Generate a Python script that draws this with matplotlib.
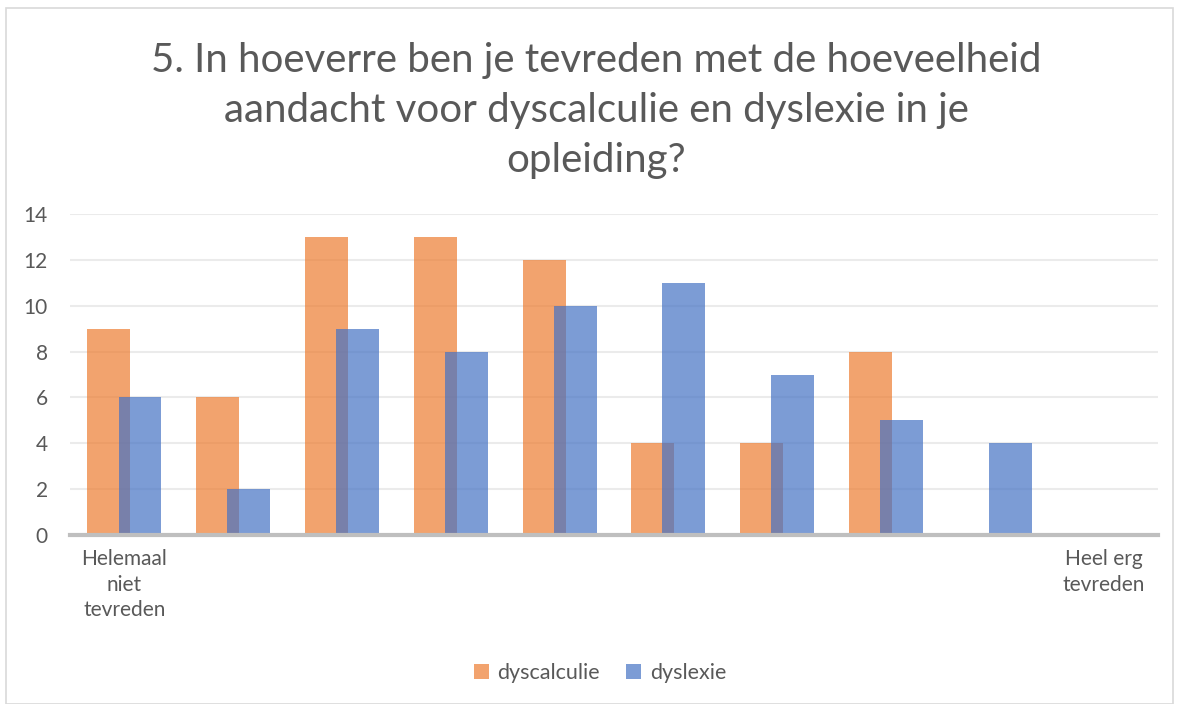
import numpy as np
import matplotlib.pyplot as plt
from matplotlib.patches import Rectangle

# donnees
categories = ["Helemaal\nniet\ntevreden", "", "", "", "", "", "", "", "", "Heel erg\ntevreden"]
dyscalculie = [9, 6, 13, 13, 12, 4, 4, 8, 0, 0]
dyslexie = [6, 2, 9, 8, 10, 11, 7, 5, 4, 0]
yticks = [0, 2, 4, 6, 8, 10, 12, 14]
titre = "5. In hoeverre ben je tevreden met de hoeveelheid\naandacht voor dyscalculie en dyslexie in je\nopleiding?"

plt.rcParams['font.family'] = ['Lato', 'DejaVu Sans']
gris = '#595959'

fig = plt.figure(figsize=(11.81, 7.04), dpi=100)
ax = fig.add_axes([0.0593, 0.240, 0.9212, 0.456])

x = np.arange(len(categories))
largeur = 0.395
decal = 0.143
ax.bar(x - decal, dyscalculie, largeur, color='#ED7D31', alpha=0.7, label='dyscalculie', zorder=2)
ax.bar(x + decal, dyslexie, largeur, color='#4472C4', alpha=0.7, label='dyslexie', zorder=3)

ax.set_xlim(-0.5, len(categories) - 0.5)
ax.set_ylim(0, 14)
ax.set_yticks(yticks)
ax.set_xticks(x)
ax.set_xticklabels(categories, linespacing=1.35)
ax.tick_params(axis='both', length=0, colors=gris, labelsize=15)
ax.tick_params(axis='y', pad=16)
ax.tick_params(axis='x', pad=10)
ax.yaxis.grid(True, color='#EBEBEB', linewidth=1.5, zorder=0)
ax.set_axisbelow(True)
for s in ['top', 'right', 'left']:
    ax.spines[s].set_visible(False)
ax.spines['bottom'].set_color('#BFBFBF')
ax.spines['bottom'].set_linewidth(3)
ax.spines['bottom'].set_zorder(4)

fig.text(0.505, 0.843, titre, ha='center', va='center', fontsize=29, color=gris,
         linespacing=1.42)

fig.legend(loc='center', bbox_to_anchor=(0.508, 0.044), ncol=2, frameon=False,
           fontsize=15.5, labelcolor=gris, handlelength=0.7, handleheight=0.7,
           handletextpad=0.4, columnspacing=1.2)

# cadre du graphique
fig.patches.append(Rectangle((0.005, 0.0), 0.988, 0.988, transform=fig.transFigure,
                             fill=False, edgecolor='#D9D9D9', linewidth=1.2))

plt.savefig('out.png', dpi=100)
